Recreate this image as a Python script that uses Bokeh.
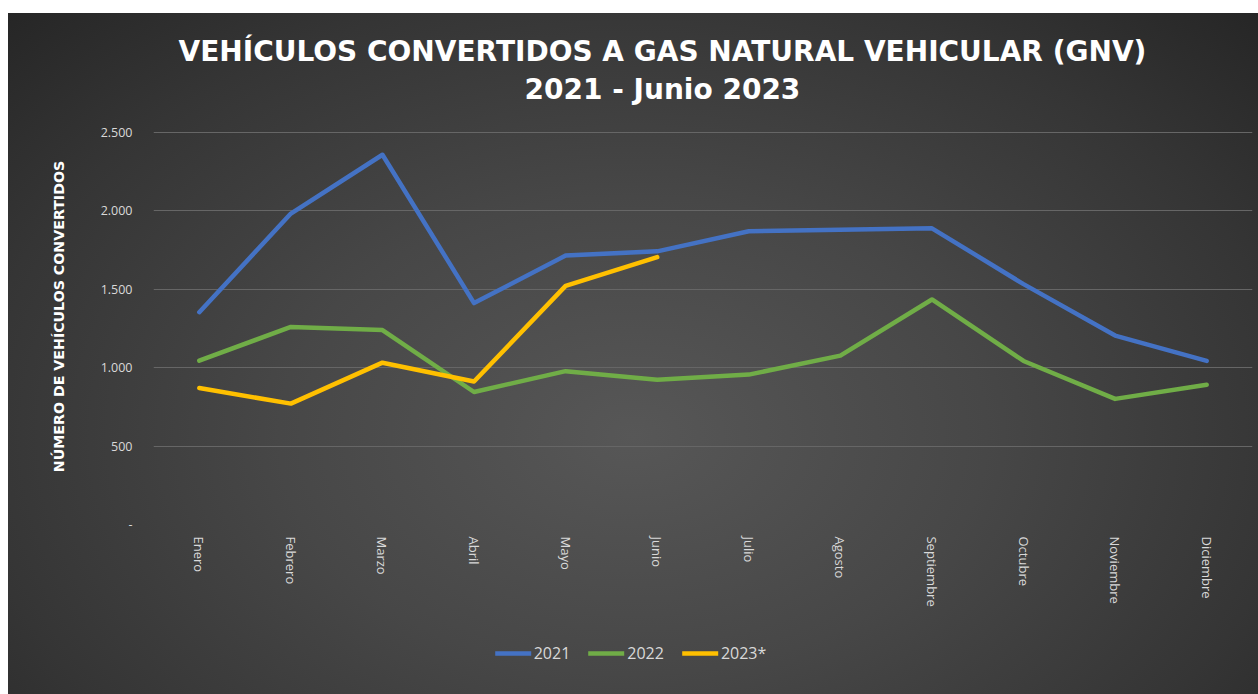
from bokeh.plotting import figure
from bokeh.models import Range1d, FactorRange, FixedTicker, Legend, LegendItem, Title, Spacer
from bokeh.layouts import column, row
from bokeh.embed import file_html
from bokeh.resources import INLINE

months = ["Enero", "Febrero", "Marzo", "Abril", "Mayo", "Junio", "Julio",
          "Agosto", "Septiembre", "Octubre", "Noviembre", "Diciembre"]
v2021 = [1354, 1983, 2358, 1412, 1715, 1742, 1870, 1880, 1889, 1533, 1205, 1043]
v2022 = [1045, 1260, 1240, 845, 978, 923, 956, 1077, 1435, 1043, 801, 891]
v2023 = [870, 771, 1032, 912, 1522, 1705]
series_names = ["2021", "2022", "2023*"]
series_colors = ["#4472C4", "#70AD47", "#FFC000"]
y_ticks = [0, 500, 1000, 1500, 2000, 2500]
y_tick_labels = ["-", "500", "1.000", "1.500", "2.000", "2.500"]
title_line1 = "VEHÍCULOS CONVERTIDOS A GAS NATURAL VEHICULAR (GNV)"
title_line2 = "2021 - Junio 2023"
y_label = "NÚMERO DE VEHÍCULOS CONVERTIDOS"
series_values = [v2021, v2022, v2023]

# frame extends a little above the 2.500 gridline to leave room for the titles
p = figure(x_range=months, y_range=Range1d(0, 2653), width=1250, height=615,
           title=None, output_backend="svg", toolbar_location=None,
           min_border_left=145, min_border_right=6, min_border_top=95,
           min_border_bottom=104)
p.border_fill_color = None
p.background_fill_color = None
p.outline_line_color = None

t2 = Title(text=title_line2, align="left", offset=371, text_color="white",
           text_font="DejaVu Sans", text_font_style="bold", text_font_size="28px", standoff=6)
t1 = Title(text=title_line1, align="left", offset=25, text_color="white",
           text_font="DejaVu Sans", text_font_style="bold", text_font_size="28px", standoff=0)
p.add_layout(t2, "above")
p.add_layout(t1, "above")

for vals, col in zip(series_values, series_colors):
    p.line(months[:len(vals)], vals, line_color=col, line_width=4.5,
           line_join="round", line_cap="round")

p.yaxis.ticker = FixedTicker(ticks=y_ticks)
p.yaxis.major_label_overrides = {t: l for t, l in zip(y_ticks, y_tick_labels)}
p.yaxis.axis_line_color = None
p.yaxis.major_tick_line_color = None
p.yaxis.minor_tick_line_color = None
p.yaxis.major_label_text_color = "#d9d9d9"
p.yaxis.major_label_text_font = "Open Sans"
p.yaxis.major_label_text_font_size = "12.5px"
p.yaxis.major_label_standoff = 15
p.yaxis.axis_label = y_label
p.yaxis.axis_label_text_color = "white"
p.yaxis.axis_label_text_font = "DejaVu Sans"
p.yaxis.axis_label_text_font_style = "bold"
p.yaxis.axis_label_text_font_size = "14.2px"
p.yaxis.axis_label_standoff = 31

p.xaxis.axis_line_color = None
p.xaxis.major_tick_line_color = None
p.xaxis.minor_tick_line_color = None
p.xaxis.major_label_orientation = "vertical"
p.xaxis.major_label_text_color = "#d9d9d9"
p.xaxis.major_label_text_font = "Open Sans"
p.xaxis.major_label_text_font_size = "13px"
p.xaxis.major_label_standoff = 6

p.xgrid.grid_line_color = None
p.ygrid.grid_line_color = "#666666"
p.ygrid.grid_line_width = 1

# separate small figure holding the legend below the chart
# (its y range is set far away so its own copies of the lines stay out of view)
p_leg = figure(width=285, height=50, x_range=FactorRange(*months), y_range=Range1d(5000, 6000),
               x_axis_type=None, y_axis_type=None, output_backend="svg",
               toolbar_location=None, min_border=0)
p_leg.border_fill_color = None
p_leg.background_fill_color = None
p_leg.outline_line_color = None
p_leg.grid.visible = False
leg_renderers = [p_leg.line(months[:len(vals)], vals, line_color=c, line_width=4.5, line_cap="round")
                 for vals, c in zip(series_values, series_colors)]
legend = Legend(items=[LegendItem(label=n, renderers=[r]) for n, r in zip(series_names, leg_renderers)],
                orientation="horizontal", location="center",
                background_fill_color=None, border_line_color=None,
                label_text_color="#d9d9d9", label_text_font="Open Sans",
                label_text_font_size="16px", glyph_width=36, glyph_height=20,
                label_standoff=3, spacing=18, padding=0, margin=0)
p_leg.add_layout(legend, "center")

layout = column(p, row(Spacer(width=480, height=50), p_leg), Spacer(width=1250, height=16))
layout.styles = {"margin-top": "13px", "margin-left": "8px",
                 "background": "radial-gradient(ellipse farthest-corner at 50% 62%, #575757 0%, #474747 40%, #353535 75%, #262626 100%)"}

open("out.html", "w").write(file_html(layout, INLINE))
